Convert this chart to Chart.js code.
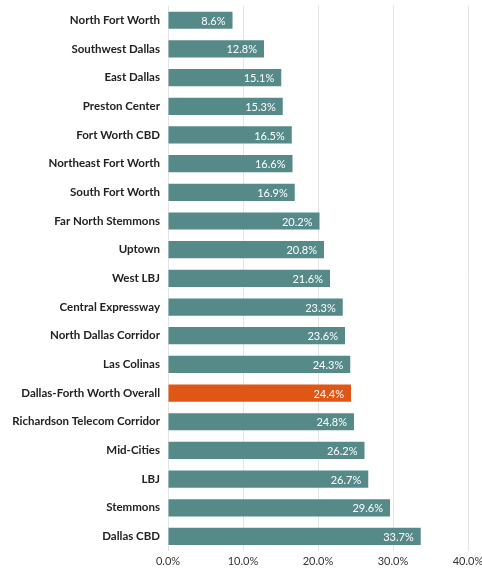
<!DOCTYPE html>
<html>
<head>
<meta charset="utf-8">
<script src="https://cdn.jsdelivr.net/npm/chart.js@4.4.1/dist/chart.umd.min.js"></script>
<style>
  html, body { margin: 0; padding: 0; background: #fff; overflow: hidden; }
  #wrap { width: 500px; height: 581px; position: relative; top: -9px; }
</style>
</head>
<body>
<div id="wrap"><canvas id="chart"></canvas></div>
<script>
// data
const submarkets = [
  "North Fort Worth", "Southwest Dallas", "East Dallas", "Preston Center",
  "Fort Worth CBD", "Northeast Fort Worth", "South Fort Worth", "Far North Stemmons",
  "Uptown", "West LBJ", "Central Expressway", "North Dallas Corridor",
  "Las Colinas", "Dallas-Forth Worth Overall", "Richardson Telecom Corridor",
  "Mid-Cities", "LBJ", "Stemmons", "Dallas CBD"
];
const vacancy = [8.6, 12.8, 15.1, 15.3, 16.5, 16.6, 16.9, 20.2, 20.8, 21.6,
  23.3, 23.6, 24.3, 24.4, 24.8, 26.2, 26.7, 29.6, 33.7];
const highlight = "Dallas-Forth Worth Overall";
const xTicks = [0, 10, 20, 30, 40];

const TEAL = "#558a89";
const ORANGE = "#df5716";

// value labels inside the bar end
const barLabels = {
  id: "barLabels",
  afterDatasetsDraw(chart) {
    const ctx = chart.ctx;
    const meta = chart.getDatasetMeta(0);
    ctx.save();
    ctx.fillStyle = "#fff";
    ctx.font = "11px Lato, 'Noto Sans', sans-serif";
    ctx.textAlign = "right";
    ctx.textBaseline = "middle";
    meta.data.forEach((bar, i) => {
      ctx.fillText(vacancy[i].toFixed(1) + "%", bar.x - 7, bar.y + 1);
    });
    ctx.restore();
  }
};

new Chart(document.getElementById("chart"), {
  type: "bar",
  data: {
    labels: submarkets,
    datasets: [{
      data: vacancy,
      backgroundColor: submarkets.map(s => s === highlight ? ORANGE : TEAL),
      barPercentage: 0.6,
      categoryPercentage: 1.0
    }]
  },
  options: {
    indexAxis: "y",
    responsive: true,
    maintainAspectRatio: false,
    animation: false,
    layout: { padding: { top: 0, right: 32, bottom: 0, left: 0 } },
    plugins: { legend: { display: false }, tooltip: { enabled: false } },
    scales: {
      x: {
        min: 0, max: 40,
        afterBuildTicks: axis => { axis.ticks = xTicks.map(v => ({ value: v })); },
        grid: { color: "#e4e4e4", drawTicks: false },
        border: { display: false },
        ticks: {
          color: "#333",
          padding: 4,
          maxRotation: 0,
          font: { family: "Lato, 'Noto Sans', sans-serif", size: 11 },
          callback: v => v.toFixed(1) + "%"
        }
      },
      y: {
        afterFit: axis => { axis.width = 168; },
        grid: { display: false, drawTicks: false },
        border: { display: false },
        ticks: {
          color: "#222",
          padding: 8,
          autoSkip: false,
          font: { family: "Lato, 'Noto Sans', sans-serif", size: 11.5, weight: "bold" }
        }
      }
    }
  },
  plugins: [barLabels]
});
</script>
</body>
</html>
